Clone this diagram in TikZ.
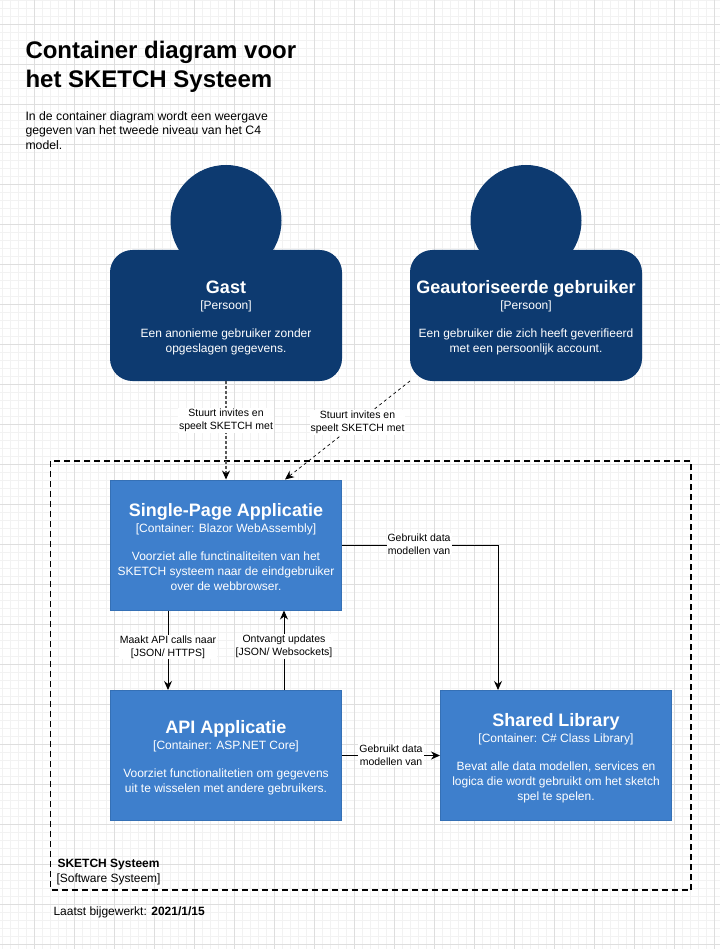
\documentclass[tikz,border=0pt]{standalone}
\usepackage{fontspec}
\setmainfont{Liberation Sans}
\usepackage{xcolor}
\usetikzlibrary{arrows.meta,positioning,calc}
\definecolor{SketchNavy}{HTML}{0D3A70}
\definecolor{SketchBlue}{HTML}{3E7FCC}
\definecolor{SketchEdge}{HTML}{3570B5}
\newcommand{\boxtext}[3]{{\fontsize{18}{21}\selectfont\rule{0pt}{18pt}\textbf{#1}}\\[1pt]#2\\[13pt]#3}
\begin{document}
\begin{tikzpicture}[x=1pt, y=-1pt, >={Stealth[length=9pt,width=8pt]}, line width=1pt,
  person/.style={rounded corners=22pt, draw=SketchNavy, fill=SketchNavy, text=white, minimum width=231pt, minimum height=130pt, align=center, inner sep=0pt, font=\fontsize{12}{15}\selectfont},
  head/.style={circle, draw=SketchNavy, fill=SketchNavy, minimum size=110pt, inner sep=0pt},
  container/.style={draw=SketchEdge, fill=SketchBlue, text=white, minimum width=231pt, minimum height=130pt, align=center, inner sep=0pt, font=\fontsize{12}{15}\selectfont},
  flow/.style={fill=white, align=center, inner sep=1pt, font=\fontsize{10.5}{13}\selectfont},
  plain/.style={anchor=north west, align=left, inner sep=0pt}]

\useasboundingbox (0,0) rectangle (720,949);
\fill[white] (0,0) rectangle (720,949);
\foreach \x in {2.5,10.5,...,720}{\draw[black!5,line width=0.6pt] (\x,0) -- (\x,949);}
\foreach \y in {0,8,...,949}{\draw[black!5,line width=0.6pt] (0,\y) -- (720,\y);}
\foreach \x in {34.5,74.5,...,720}{\draw[black!13,line width=0.8pt] (\x,0) -- (\x,949);}
\foreach \y in {24,64,...,949}{\draw[black!13,line width=0.8pt] (0,\y) -- (720,\y);}

\node[plain, font=\fontsize{24}{29}\selectfont\bfseries] (title) at (25,40.5) {Container diagram voor\\het SKETCH Systeem};
\node[plain, font=\fontsize{12.25}{14.5}\selectfont] (intro) at (25,111) {In de container diagram wordt een weergave\\gegeven van het tweede niveau van het C4\\model.};

\node[head] (gasthead) at (226,220.5) {};
\node[head] (userhead) at (526,220.5) {};
\node[person] (gast) at (226,315.5) {\boxtext{Gast}{[Persoon]}{Een anonieme gebruiker zonder\\opgeslagen gegevens.}};
\node[person] (user) at (526,315.5) {\boxtext{Geautoriseerde gebruiker}{[Persoon]}{Een gebruiker die zich heeft geverifieerd\\met een persoonlijk account.}};

\draw[line width=1.6pt, dash pattern=on 6pt off 4pt] (50.5,461) rectangle (691,890);
\node[plain, font=\fontsize{12}{15}\selectfont] (system) at (56,859) {\hspace{1pt}\textbf{SKETCH Systeem}\\{}[Software Systeem]};

\node[container] (spa) at (226,545) {\boxtext{Single-Page Applicatie}{[Container: Blazor WebAssembly]}{Voorziet alle functinaliteiten van het\\SKETCH systeem naar de eindgebruiker\\over de webbrowser.}};
\node[container] (api) at (226,755.5) {\boxtext{API Applicatie}{[Container: ASP.NET Core]}{Voorziet functionalitetien om gegevens\\uit te wisselen met andere gebruikers.}};
\node[container] (lib) at (556,755.5) {\boxtext{Shared Library}{[Container: C\# Class Library]}{Bevat alle data modellen, services en\\logica die wordt gebruikt om het sketch\\spel te spelen.}};

\draw[-{Stealth[length=9pt,width=8pt,black]}, black!65, line width=1.2pt, dash pattern=on 3pt off 2pt] (gast) -- (spa) node[flow, text=black, pos=0.40] (lblgast) {Stuurt invites en\\speelt SKETCH met};
\draw[->, dashed, line width=0.7pt] (user.south west) -- ([xshift=59pt]spa.north) node[flow, pos=0.42] (lbluser) {Stuurt invites en\\speelt SKETCH met};
\draw[->] ([xshift=-58pt]spa.south) -- ([xshift=-58pt]api.north) node[flow, pos=0.46] (lblcalls) {Maakt API calls naar\\{}[JSON/ HTTPS]};
\draw[->] ([xshift=58pt]api.north) -- ([xshift=58pt]spa.south) node[flow, pos=0.55] (lblupdates) {Ontvangt updates\\{}[JSON/ Websockets]};
\draw[->] (spa.east) -| ([xshift=-58pt]lib.north) node[flow, pos=0.247, yshift=1pt] (lblspalib) {Gebruikt data\\modellen van};
\draw[->] (api) -- (lib) node[flow, midway] (lblapilib) {Gebruikt data\\modellen van};

\node[plain, font=\fontsize{12}{15}\selectfont] (stamp) at (53,906) {Laatst bijgewerkt: \textbf{2021/1/15}};
\end{tikzpicture}
\end{document}
